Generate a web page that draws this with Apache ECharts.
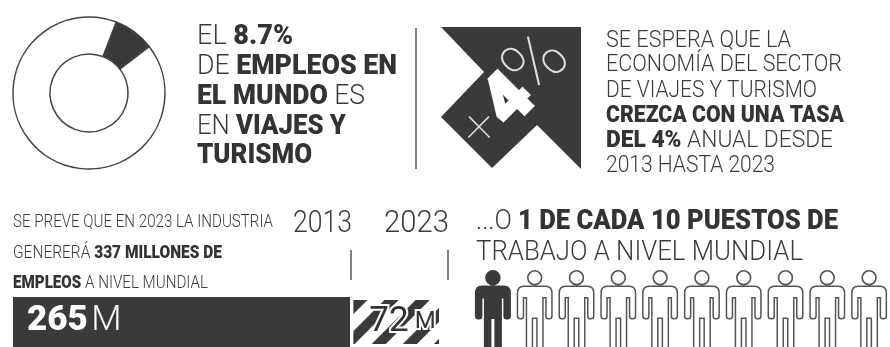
<!DOCTYPE html>
<html>
<head>
<meta charset="utf-8">
<style>html,body{margin:0;padding:0;background:#fff}#chart{width:890px;height:347px}</style>
<script src="https://cdn.jsdelivr.net/npm/echarts@6/dist/echarts.min.js"></script>
</head>
<body>
<div id="chart"></div>
<script>
// Shares and job counts for the travel and tourism sector
const jobShare = [8.7, 91.3];
const jobsMillions = [265, 72];
const jobsTotal = 337;
const peopleLabels = ['1', '2', '3', '4', '5', '6', '7', '8', '9', '10'];
const peopleHighlighted = [1, null, null, null, null, null, null, null, null, null];
const peopleOthers = [null, 1, 1, 1, 1, 1, 1, 1, 1, 1];

// Copy blocks; **text** marks the heavy runs
const shareLines = ['EL **8.7%**', 'DE **EMPLEOS EN**', '**EL MUNDO** ES', 'EN **VIAJES Y**', '**TURISMO**'];
const growthLines = ['SE ESPERA QUE LA', 'ECONOMÍA DEL SECTOR', 'DE VIAJES Y TURISMO', '**CREZCA CON UNA TASA**', '**DEL 4%** ANUAL DESDE', '2013 HASTA 2023'];
const forecastLines = ['SE PREVE QUE EN 2023 LA INDUSTRIA', 'GENERERÁ **337 MILLONES DE**', '**EMPLEOS** A NIVEL MUNDIAL'];
const ratioLines = ['...O **1 DE CADA 10 PUESTOS DE**', 'TRABAJO A NIVEL MUNDIAL'];
const yearLabels = ['2013', '2023'];

const DARK = '#3a3a3a';
const INK = '#3c3c3c';
const FONT = 'Roboto';

// Solid figure: head plus body with slits beside the arms and between the legs
const PERSON_SOLID = 'path://M18,0A7.7,7.7 0 1,1 17.99,0Z' +
  'M7,15.5H29Q36,15.5 36,23V46Q36,49.5 32.5,49.5H31.5Q28.5,49.5 28.5,46V28.5H27V100H19.5V49H16.5V100H9V28.5H7.5V46Q7.5,49.5 4.5,49.5H3.5Q0,49.5 0,46V23Q0,15.5 7,15.5Z';
// Outlined figure: the same contour with an inner contour wound the other way
const PERSON_OUTLINE = PERSON_SOLID +
  'M18,1.6A6.1,6.1 0 1,0 18.01,1.6Z' +
  'M7,17Q1.5,17 1.5,23V46Q1.5,48 3.5,48H4.5Q6,48 6,46V27H10.5V100H15V47.5H21V100H25.5V27H30V46Q30,48 31.5,48H32.5Q34.5,48 34.5,46V23Q34.5,17 29,17Z';

const ctx = document.createElement('canvas').getContext('2d');

// One line of mixed-weight copy, squeezed horizontally to a set width
function textLine(str, x, cy, size, width) {
  const parts = str.split('**');
  let natural = 0, content = '';
  parts.forEach((p, i) => {
    if (!p) return;
    const heavy = i % 2 === 1;
    ctx.font = (heavy ? 900 : 300) + ' ' + size + 'px ' + FONT;
    natural += ctx.measureText(p).width;
    content += '{' + (heavy ? 'b' : 'l') + '|' + p + '}';
  });
  return {
    type: 'text', x: x, y: cy, scaleX: width / natural, silent: true,
    style: {
      text: content, x: 0, y: 0, verticalAlign: 'middle', align: 'left',
      rich: {
        l: { fontFamily: FONT, fontWeight: 300, fontSize: size, fill: INK, color: INK },
        b: { fontFamily: FONT, fontWeight: 900, fontSize: size, fill: '#333', color: '#333' }
      }
    }
  };
}
function block(lines, x, centres, size, widths) {
  return lines.map((s, i) => textLine(s, x, centres[i], size, widths[i]));
}
function rule(x, y1, y2) {
  return { type: 'line', silent: true, shape: { x1: x, y1: y1, x2: x, y2: y2 }, style: { stroke: '#555', lineWidth: 1.5 } };
}

const graphics = [
  // Arrow badge
  { type: 'polygon', silent: true,
    shape: { points: [[441, 27], [581, 27], [581, 169], [537, 125], [492, 168], [441, 117], [484, 72]] },
    style: { fill: DARK } },
  { type: 'text', silent: true, x: 479, y: 124,
    style: { text: '×', fontFamily: FONT, fontWeight: 100, fontSize: 54, fill: '#ddd', align: 'center', verticalAlign: 'middle' } },
  { type: 'text', silent: true, x: 511, y: 103, rotation: Math.PI / 4,
    style: { text: '4', fontFamily: FONT, fontWeight: 900, fontSize: 70, fill: '#fff', stroke: '#fff', lineWidth: 3, align: 'center', verticalAlign: 'middle' } },
  { type: 'text', silent: true, x: 539, y: 66, rotation: Math.PI / 4,
    style: { text: '%', fontFamily: FONT, fontWeight: 100, fontSize: 76, fill: '#ddd', align: 'center', verticalAlign: 'middle' } },
  rule(416, 28, 169),
  rule(351, 250, 280),
  rule(448, 250, 280),
  textLine(yearLabels[0], 293, 224, 32, 59),
  textLine(yearLabels[1], 384, 224, 32, 65)
].concat(
  block(shareLines, 197, [36.5, 67, 96.5, 126.5, 156], 28, [96, 200, 168, 149, 115]),
  block(growthLines, 606, [41, 65, 90.5, 116, 141, 165.5], 24, [185, 236, 211, 238, 227, 169]),
  block(forecastLines, 13, [222, 253, 283], 18, [260, 209, 195]),
  block(ratioLines, 476, [222, 253], 28, [362, 327])
);

const chart = echarts.init(document.getElementById('chart'), null, { renderer: 'canvas' });
chart.setOption({
  animation: false,
  backgroundColor: '#fff',
  graphic: graphics,
  grid: [
    { left: 13, top: 297, width: 429, height: 52 },
    { left: 472, top: 270, width: 422, height: 100 }
  ],
  xAxis: [
    { gridIndex: 0, type: 'value', min: 0, max: jobsTotal, show: false },
    { gridIndex: 1, type: 'category', data: peopleLabels, show: false }
  ],
  yAxis: [
    { gridIndex: 0, type: 'category', data: ['empleos'], show: false },
    { gridIndex: 1, type: 'value', min: 0, max: 1, show: false }
  ],
  series: [
    {
      type: 'pie', center: [89, 93], radius: [39, 76], startAngle: 69, silent: true,
      label: { show: false }, labelLine: { show: false },
      itemStyle: { borderColor: '#444', borderWidth: 1.5 },
      data: [
        { value: jobShare[0], itemStyle: { color: DARK } },
        { value: jobShare[1], itemStyle: { color: '#fff' } }
      ]
    },
    {
      type: 'bar', xAxisIndex: 0, yAxisIndex: 0, stack: 'jobs', barWidth: '100%', silent: true,
      data: [jobsMillions[0]],
      itemStyle: { color: DARK },
      label: {
        show: true, position: 'insideLeft', offset: [9, -1],
        formatter: '{a|' + jobsMillions[0] + '} {c|M}',
        rich: {
          a: { fontFamily: FONT, fontWeight: 900, fontSize: 35, color: '#fff' },
          c: { fontFamily: FONT, fontWeight: 300, fontSize: 35, color: '#fff' }
        }
      }
    },
    {
      type: 'bar', xAxisIndex: 0, yAxisIndex: 0, stack: 'jobs', silent: true,
      data: [jobsMillions[1]],
      itemStyle: {
        color: '#fff', borderColor: '#fff', borderWidth: 3,
        decal: {
          symbol: 'rect', symbolSize: 1, rotation: -Math.PI / 4,
          dashArrayX: [1, 0], dashArrayY: [10, 12], color: DARK
        }
      },
      label: {
        show: true, position: 'insideLeft', offset: [14, 0],
        formatter: '{a|' + jobsMillions[1] + '}{c| M}',
        rich: {
          a: { fontFamily: FONT, fontWeight: 400, fontSize: 35, color: '#333', textBorderColor: '#fff', textBorderWidth: 4 },
          c: { fontFamily: FONT, fontWeight: 400, fontSize: 24, color: '#333', textBorderColor: '#fff', textBorderWidth: 4 }
        }
      }
    },
    {
      type: 'pictorialBar', xAxisIndex: 1, yAxisIndex: 1, silent: true,
      symbol: PERSON_SOLID, symbolSize: [36, 100], symbolPosition: 'end', barGap: '-100%',
      itemStyle: { color: DARK },
      data: peopleHighlighted
    },
    {
      type: 'pictorialBar', xAxisIndex: 1, yAxisIndex: 1, silent: true,
      symbol: PERSON_OUTLINE, symbolSize: [36, 100], symbolPosition: 'end', barGap: '-100%',
      itemStyle: { color: '#555' },
      data: peopleOthers
    }
  ]
});
</script>
</body>
</html>
